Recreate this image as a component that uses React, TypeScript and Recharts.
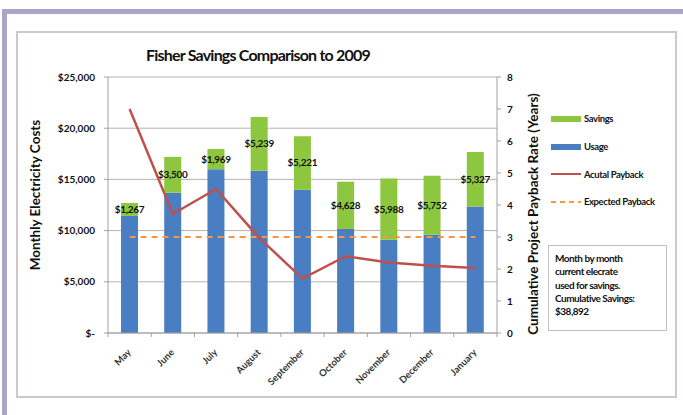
import { ComposedChart, Bar, Line, XAxis, YAxis, CartesianGrid, LabelList } from 'recharts'

const months = ['May', 'June', 'July', 'August', 'September', 'October', 'November', 'December', 'January']
const usage = [11430, 13700, 16000, 15850, 14000, 10150, 9100, 9600, 12350]
const savings = [1267, 3500, 1969, 5239, 5221, 4628, 5988, 5752, 5327]
const actualPayback = [7.0, 3.72, 4.5, 2.97, 1.7, 2.4, 2.2, 2.1, 2.03]
const expectedPayback = [3, 3, 3, 3, 3, 3, 3, 3, 3]

const costTicks = [0, 5000, 10000, 15000, 20000, 25000]
const yearTicks = [0, 1, 2, 3, 4, 5, 6, 7, 8]

const noteLines = ['Month by month', 'current elecrate', 'used for savings.', 'Cumulative Savings:', '$38,892']

const data = months.map((m, i) => ({
  month: m,
  usage: usage[i],
  savings: savings[i],
  actual: actualPayback[i],
  expected: expectedPayback[i],
}))

const BLUE = '#4a7ec2'
const GREEN = '#8dc63f'
const RED = '#c0504d'
const ORANGE = '#f79646'
const FONT = 'Lato, "Open Sans", sans-serif'

const money = (v: number) => (v === 0 ? '$-' : '$' + v.toLocaleString('en-US'))

const legendItems = [
  { name: 'Savings', color: GREEN, kind: 'bar' },
  { name: 'Usage', color: BLUE, kind: 'bar' },
  { name: 'Acutal Payback', color: RED, kind: 'line' },
  { name: 'Expected Payback', color: ORANGE, kind: 'dash' },
]

// eslint-disable-next-line @typescript-eslint/no-explicit-any
function MonthTick({ x, y, payload, width, visibleTicksCount, index }: any) {
  const half = width / visibleTicksCount / 2
  return (
    <g>
      <line x1={x - half} x2={x - half} y1={y} y2={y + 4} stroke="#a0a0a0" />
      {index === visibleTicksCount - 1 && (
        <line x1={x + half} x2={x + half} y1={y} y2={y + 4} stroke="#a0a0a0" />
      )}
      <text
        x={x + 2}
        y={y + 20}
        textAnchor="end"
        transform={`rotate(-45 ${x + 2} ${y + 20})`}
        fontSize={9.5}
        fontWeight="bold"
        fill="#333"
        fontFamily={FONT}
      >
        {payload.value}
      </text>
    </g>
  )
}

function LegendBox() {
  return (
    <div
      style={{
        position: 'absolute',
        left: 551,
        top: 105,
        fontFamily: FONT,
        fontSize: 9.5,
        fontWeight: 'bold',
        color: '#111',
        letterSpacing: -0.4,
      }}
    >
      {legendItems.map((it) => (
        <div key={it.name} style={{ display: 'flex', alignItems: 'center', height: 27.7 }}>
          <svg width={33} height={8}>
            {it.kind === 'bar' && <rect x={0} y={1} width={30} height={6} fill={it.color} />}
            {it.kind === 'line' && <line x1={0} x2={30} y1={4} y2={4} stroke={it.color} strokeWidth={2} />}
            {it.kind === 'dash' && (
              <line x1={0} x2={30} y1={4} y2={4} stroke={it.color} strokeWidth={2} strokeDasharray="5 4" />
            )}
          </svg>
          <span>{it.name}</span>
        </div>
      ))}
    </div>
  )
}

export default function App() {
  return (
    <div style={{ position: 'absolute', left: 0, top: 0, width: 683, height: 415, background: '#fff', overflow: 'hidden' }}>
      <div style={{ position: 'absolute', left: 2, top: 9, width: 681, height: 5, background: '#a9a6c9' }} />
      <div style={{ position: 'absolute', left: 2, top: 9, width: 5, height: 406, background: '#a9a6c9' }} />
      <div
        style={{
          position: 'absolute',
          left: 16,
          top: 31,
          width: 657,
          height: 363,
          border: '2px solid #cfc8c6',
          background: '#fff',
        }}
      />
      <div
        style={{
          position: 'absolute',
          left: 108,
          top: 45,
          width: 300,
          textAlign: 'center',
          fontFamily: FONT,
          fontSize: 16,
          fontWeight: 'bold',
          letterSpacing: -0.8,
          color: '#111',
        }}
      >
        Fisher Savings Comparison to 2009
      </div>
      <div
        style={{
          position: 'absolute',
          left: 35 - 110,
          top: 195 - 9,
          width: 220,
          height: 18,
          lineHeight: '18px',
          textAlign: 'center',
          transform: 'rotate(-90deg)',
          fontFamily: FONT,
          fontSize: 13.5,
          fontWeight: 'bold',
          color: '#111',
        }}
      >
        Monthly Electricity Costs
      </div>
      <div
        style={{
          position: 'absolute',
          left: 533 - 150,
          top: 214 - 9,
          width: 300,
          height: 18,
          lineHeight: '18px',
          textAlign: 'center',
          transform: 'rotate(-90deg)',
          fontFamily: FONT,
          fontSize: 13.5,
          fontWeight: 'bold',
          color: '#111',
        }}
      >
        Cumulative Project Payback Rate (Years)
      </div>
      <div style={{ position: 'absolute', left: 0, top: 0 }}>
        <ComposedChart
          width={683}
          height={415}
          data={data}
          margin={{ top: 77, right: 146, bottom: 52, left: 48 }}
          barSize={17}
        >
          <CartesianGrid yAxisId="cost" vertical={false} stroke="#b8b0ae" />
          <XAxis
            dataKey="month"
            height={30}
            tickLine={false}
            tickSize={0}
            tickMargin={0}
            interval={0}
            axisLine={{ stroke: '#a0a0a0' }}
            tick={<MonthTick />}
          />
          <YAxis
            yAxisId="cost"
            width={60}
            domain={[0, 25000]}
            ticks={costTicks}
            tickFormatter={money}
            tickSize={4}
            tickMargin={9}
            axisLine={{ stroke: '#a0a0a0' }}
            tickLine={{ stroke: '#a0a0a0' }}
            tick={{ fontSize: 10, fontWeight: 'bold', fill: '#111', fontFamily: FONT }}
          />
          <YAxis
            yAxisId="years"
            orientation="right"
            width={40}
            domain={[0, 8]}
            ticks={yearTicks}
            tickSize={4}
            tickMargin={6}
            axisLine={{ stroke: '#a0a0a0' }}
            tickLine={{ stroke: '#a0a0a0' }}
            tick={{ fontSize: 10, fontWeight: 'bold', fill: '#111', fontFamily: FONT }}
          />
          <Bar yAxisId="cost" dataKey="usage" stackId="a" fill={BLUE} isAnimationActive={false} />
          <Bar yAxisId="cost" dataKey="savings" stackId="a" fill={GREEN} isAnimationActive={false}>
            <LabelList
              dataKey="savings"
              position="center"
              formatter={(v: unknown) => money(Number(v))}
              style={{ fontSize: 10, fontWeight: 'bold', fill: '#111', fontFamily: FONT, letterSpacing: -0.3 }}
            />
          </Bar>
          <Line
            yAxisId="years"
            dataKey="expected"
            stroke={ORANGE}
            strokeWidth={2}
            strokeDasharray="6 5"
            dot={false}
            isAnimationActive={false}
          />
          <Line
            yAxisId="years"
            dataKey="actual"
            stroke={RED}
            strokeWidth={2.5}
            dot={false}
            isAnimationActive={false}
          />
        </ComposedChart>
      </div>
      <LegendBox />
      <div
        style={{
          position: 'absolute',
          left: 548,
          top: 245,
          width: 106,
          height: 76,
          border: '1px solid #c4c0bf',
          padding: '6px 5px 2px 6px',
          fontFamily: FONT,
          fontSize: 10,
          fontWeight: 'bold',
          lineHeight: '13.3px',
          letterSpacing: -0.5,
          color: '#111',
        }}
      >
        {noteLines.map((l) => (
          <div key={l}>{l}</div>
        ))}
      </div>
    </div>
  )
}
